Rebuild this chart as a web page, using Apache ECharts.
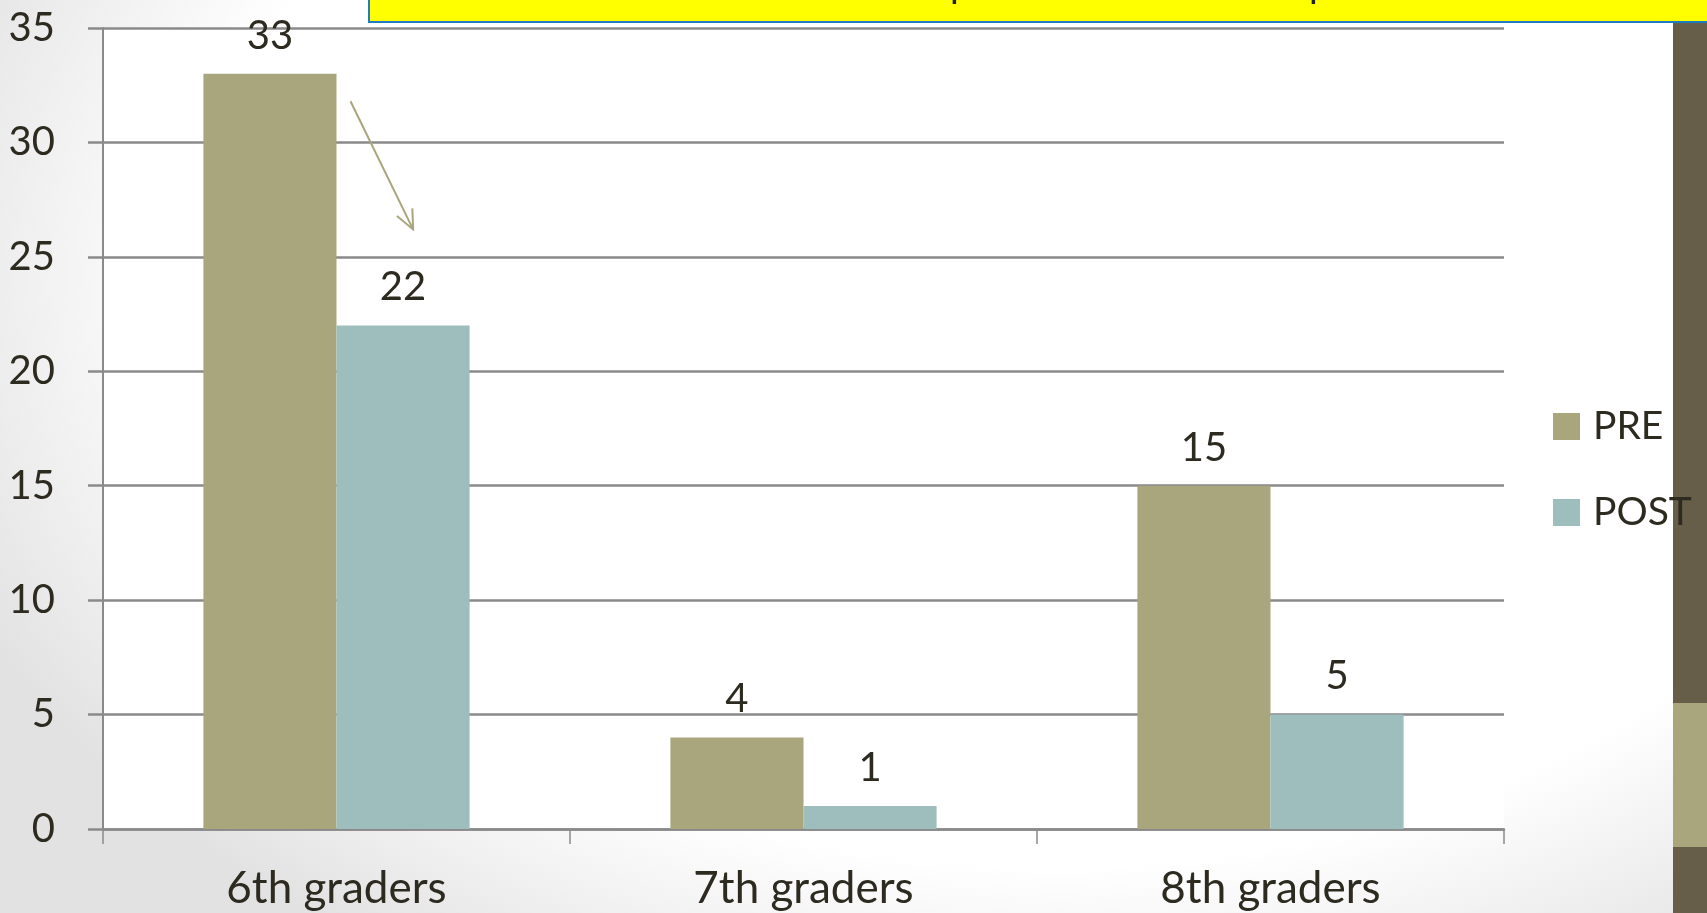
<!DOCTYPE html>
<html>
<head>
<meta charset="utf-8">
<script src="https://cdn.jsdelivr.net/npm/echarts@6/dist/echarts.min.js"></script>
<style>
html,body{margin:0;padding:0;width:1707px;height:913px;overflow:hidden;}
body{background: radial-gradient(ellipse 70% 90% at 62% 30%, #ffffff 72%, #e2e2e2 100%);}
#chart{width:1707px;height:913px;}
</style>
</head>
<body>
<div id="chart"></div>
<script>
const categories = ['6th graders', '7th graders', '8th graders'];
const preValues = [33, 4, 15];
const postValues = [22, 1, 5];
const seriesNames = ['PRE', 'POST'];
const yTicks = { min: 0, max: 35, interval: 5 };
// arrow annotation (value-space endpoints)
const arrowFrom = { category: 0, value: 31.8 };
const arrowTo = { category: 0, value: 26.2 };

const FONT = 'Lato';
const TEXT = '#2d2a20';
const AXIS = '#8a8a8a';
const PRE_C = '#A9A57C';
const POST_C = '#9DBEBD';

const chart = echarts.init(document.getElementById('chart'), null, { renderer: 'canvas' });

const labelCfg = {
  show: true, position: 'top', distance: 18,
  fontFamily: FONT, fontSize: 40, color: TEXT
};

const option = {
  backgroundColor: 'transparent',
  animation: false,
  grid: {
    left: 103, right: 203, top: 28, bottom: 84,
    show: true, backgroundColor: '#ffffff', borderWidth: 0
  },
  legend: {
    orient: 'vertical',
    left: 1553, top: 407, padding: 0,
    itemWidth: 27, itemHeight: 27, itemGap: 47,
    icon: 'rect',
    data: seriesNames,
    textStyle: { fontFamily: FONT, fontSize: 39, color: TEXT, lineHeight: 27, padding: [0, 0, 0, 8] }
  },
  xAxis: {
    type: 'category',
    data: categories,
    axisLine: { show: true, lineStyle: { color: AXIS, width: 2.5 } },
    axisTick: { show: true, length: 15, lineStyle: { color: AXIS, width: 1.5 } },
    axisLabel: { interval: 0, margin: 38, fontFamily: FONT, fontSize: 44, color: TEXT }
  },
  yAxis: {
    type: 'value',
    min: yTicks.min, max: yTicks.max, interval: yTicks.interval,
    axisLine: { show: true, lineStyle: { color: AXIS, width: 2 } },
    axisTick: { show: true, length: 15, lineStyle: { color: AXIS, width: 2.5 } },
    splitLine: { show: true, lineStyle: { color: AXIS, width: 2.5 } },
    axisLabel: { margin: 48, fontFamily: FONT, fontSize: 40, color: TEXT }
  },
  series: [
    {
      name: seriesNames[0], type: 'bar', data: preValues,
      itemStyle: { color: PRE_C }, barGap: '0%', barCategoryGap: '43%',
      label: labelCfg
    },
    {
      name: seriesNames[1], type: 'bar', data: postValues,
      itemStyle: { color: POST_C }, barGap: '0%', barCategoryGap: '43%',
      label: labelCfg
    }
  ]
};
chart.setOption(option);

// decorations + arrow, positioned via the chart's scales
const c0 = chart.convertToPixel({ xAxisIndex: 0 }, categories[arrowFrom.category]);
const band = (chart.convertToPixel({ xAxisIndex: 0 }, categories[1]) - c0);
const x1 = c0 + band * 0.03;
const x2 = c0 + band * 0.164;
const y1 = chart.convertToPixel({ yAxisIndex: 0 }, arrowFrom.value);
const y2 = chart.convertToPixel({ yAxisIndex: 0 }, arrowTo.value);
const ang = Math.atan2(y2 - y1, x2 - x1);
const hl = 21, ha = 0.42;
const w1 = [x2 - hl * Math.cos(ang - ha), y2 - hl * Math.sin(ang - ha)];
const w2 = [x2 - hl * Math.cos(ang + ha), y2 - hl * Math.sin(ang + ha)];

chart.setOption({
  graphic: [
    { type: 'rect', z: -10, silent: true, shape: { x: 1673, y: 0, width: 40, height: 913 }, style: { fill: '#665E48' } },
    { type: 'rect', z: -9, silent: true, shape: { x: 1673, y: 703, width: 40, height: 144 }, style: { fill: '#A9A57C' } },
    { type: 'rect', z: 10, silent: true, shape: { x: 369, y: -20, width: 1400, height: 42 }, style: { fill: '#FFFF00', stroke: '#1E7CC4', lineWidth: 2 } },
    { type: 'text', z: 11, silent: true, x: 950, y: 4, style: { text: 'p', fontFamily: FONT, fontSize: 38, fill: '#222', textVerticalAlign: 'bottom' } },
    { type: 'text', z: 11, silent: true, x: 1309, y: 4, style: { text: 'p', fontFamily: FONT, fontSize: 38, fill: '#222', textVerticalAlign: 'bottom' } },
    { type: 'line', z: 20, silent: true, shape: { x1: x1, y1: y1, x2: x2, y2: y2 }, style: { stroke: PRE_C, lineWidth: 2 } },
    { type: 'polyline', z: 20, silent: true, shape: { points: [w1, [x2, y2], w2] }, style: { stroke: PRE_C, lineWidth: 2, fill: null } }
  ]
});
</script>
</body>
</html>
